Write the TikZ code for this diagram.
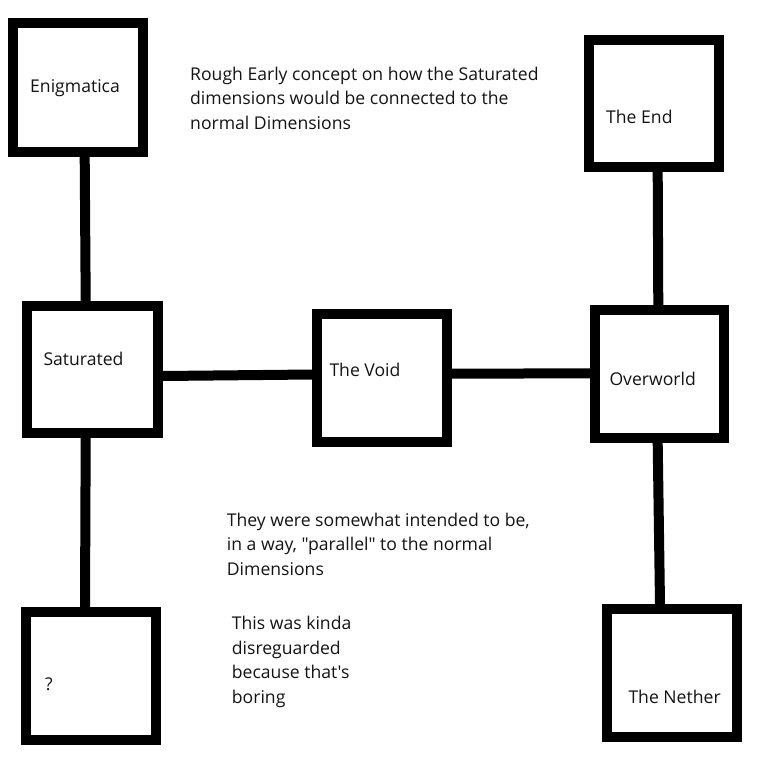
\documentclass[tikz,border=0pt]{standalone}
\usepackage{fontspec}
\setmainfont{Open Sans}[Ligatures=TeXOff]
\usetikzlibrary{calc}
\begin{document}
\begin{tikzpicture}[x=1pt,y=-1pt,
  dimbox/.style={draw=black,line width=10pt,fill=white,rectangle,inner sep=0pt},
  conn/.style={draw=black,line width=10pt,shorten <=-4pt,shorten >=-4pt},
  lbl/.style={anchor=base west,inner sep=0pt,text=black!92,font=\fontsize{17.6}{24.5}\selectfont},
  para/.style={lbl,align=left}]
\useasboundingbox[fill=white] (0,0) rectangle (780,780);
% boxes
\node[dimbox,minimum width=130pt,minimum height=129pt] (enig) at (78,87.5) {};
\node[dimbox,minimum width=130pt,minimum height=126.7pt] (end) at (654,103.3) {};
\node[dimbox,minimum width=131pt,minimum height=127.3pt] (sat) at (92.2,369.7) {};
\node[dimbox,minimum width=130.6pt,minimum height=127.7pt] (void) at (382,377.8) {};
\node[dimbox,minimum width=129.3pt,minimum height=127.7pt] (over) at (659.7,373.8) {};
\node[dimbox,minimum width=130pt,minimum height=128.3pt] (unk) at (91,675.8) {};
\node[dimbox,minimum width=129.4pt,minimum height=127.7pt] (neth) at (672,672.8) {};
% connectors
\draw[conn] ($(enig.south)+(6.7,0)$) -- ($(sat.north)+(-6.5,0)$);
\draw[conn] ($(sat.south)+(-6.5,0)$) -- ($(unk.north)+(-6,0)$);
\draw[conn] ($(sat.east)+(0,6.3)$) -- ($(void.west)+(0,-3.3)$);
\draw[conn] ($(void.east)+(0,-4.1)$) -- ($(over.west)+(0,-0.5)$);
\draw[conn] ($(end.south)+(3.7,0)$) -- ($(over.north)+(-1.4,0)$);
\draw[conn] ($(over.south)+(-2,0)$) -- ($(neth.north)+(-12,0)$);
% box labels
\node[lbl] (tenig) at (30,92.7) {Enigmatica};
\node[lbl] (tend) at (606,123) {The End};
\node[lbl] (tsat) at (43.3,365) {Saturated};
\node[lbl] (tvoid) at (329.3,376) {The Void};
\node[lbl] (tover) at (609.3,385) {Overworld};
\node[lbl] (tunk) at (45,690) {?};
\node[lbl] (tneth) at (628.3,703.3) {The Nether};
% notes (base anchor = last line's baseline)
\node[para] (note1) at (190,129) {Rough Early concept on how the Saturated\\dimensions would be connected to the\\normal Dimensions};
\node[para] (note2) at (226.7,575) {They were somewhat intended to be,\\in a way, "parallel" to the normal\\Dimensions};
\node[para] (note3) at (231.7,703) {This was kinda\\disreguarded\\because that's\\boring};
\end{tikzpicture}
\end{document}
